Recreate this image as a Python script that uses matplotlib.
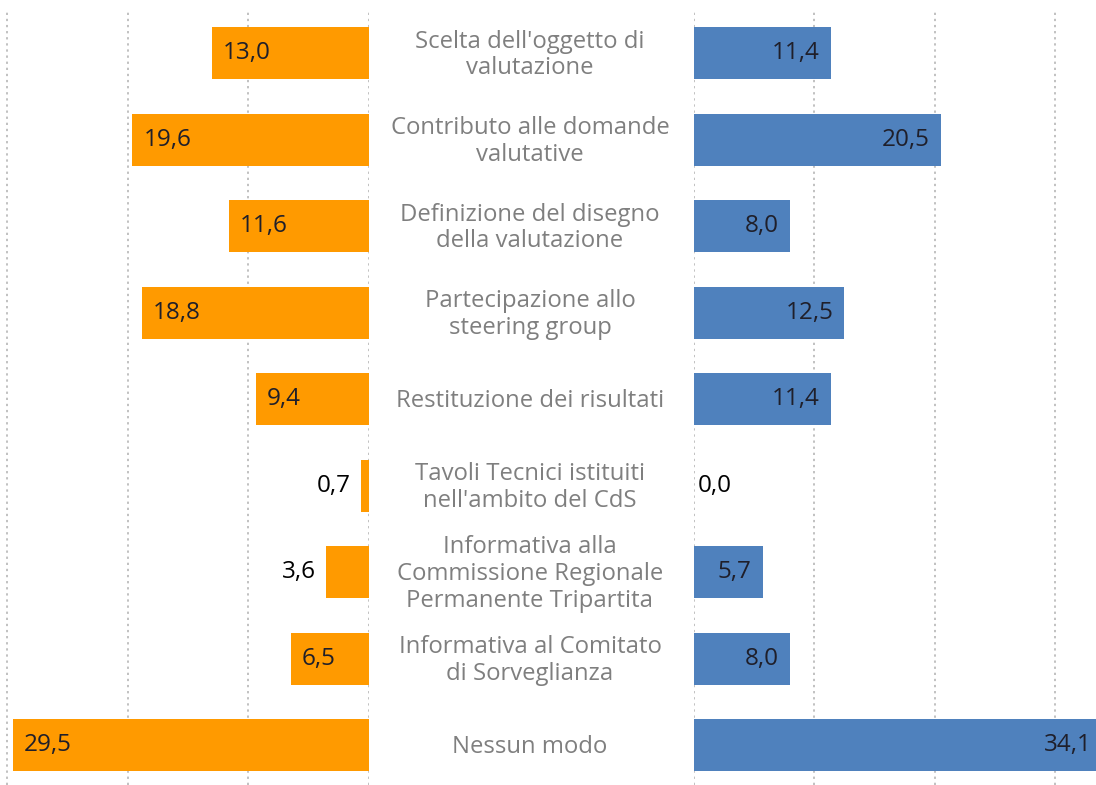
import matplotlib
matplotlib.use("Agg")
import matplotlib.pyplot as plt
import matplotlib.transforms as mtransforms

categories = [
    "Scelta dell'oggetto di\nvalutazione",
    "Contributo alle domande\nvalutative",
    "Definizione del disegno\ndella valutazione",
    "Partecipazione allo\nsteering group",
    "Restituzione dei risultati",
    "Tavoli Tecnici istituiti\nnell'ambito del CdS",
    "Informativa alla\nCommissione Regionale\nPermanente Tripartita",
    "Informativa al Comitato\ndi Sorveglianza",
    "Nessun modo",
]
left_values = [13.0, 19.6, 11.6, 18.8, 9.4, 0.7, 3.6, 6.5, 29.5]
right_values = [11.4, 20.5, 8.0, 12.5, 11.4, 0.0, 5.7, 8.0, 34.1]
grid_ticks = [0, 10, 20, 30]

ORANGE = "#FF9A00"
BLUE = "#4F81BD"
LABEL_GREY = "#7F7F7F"
VAL_COLOR = "#1F1F2A"
FONT = "Open Sans"

W, H = 1096, 785
fig = plt.figure(figsize=(W / 100, H / 100), dpi=100)

top_px = 10
axL = fig.add_axes([0, 0, 369 / W, (H - top_px) / H])
axR = fig.add_axes([694 / W, 0, (W - 694) / W, (H - top_px) / H])

y = list(range(len(categories)))
pxL = (369 - 7) / 30.0
pxR = (1055 - 694) / 30.0
xmaxL = 369 / pxL
xmaxR = (W - 694) / pxR

axL.barh(y, left_values, height=0.6, color=ORANGE, zorder=2)
axR.barh(y, right_values, height=0.6, color=BLUE, zorder=2)

for ax in (axL, axR):
    ax.set_ylim(8.46, -0.5)
    ax.set_xticks(grid_ticks)
    ax.grid(axis="x", color="#B0B0B0", linestyle=(0, (1.5, 2.5)), linewidth=1.1, zorder=0)
    ax.set_yticks([])
    ax.tick_params(axis="x", length=0, labelbottom=False)
    for s in ax.spines.values():
        s.set_visible(False)
    ax.set_facecolor("none")
axL.set_xlim(xmaxL, 0)
axR.set_xlim(0, xmaxR)

fs_val = 17.5
for i, v in enumerate(left_values):
    txt = f"{v:.1f}".replace(".", ",")
    if v >= 4.5:
        axL.annotate(txt, (v, i), xytext=(8, 0), textcoords="offset points",
                     ha="left", va="center", fontsize=fs_val, color=VAL_COLOR, family=FONT)
    else:
        axL.annotate(txt, (v, i), xytext=(-7, 0), textcoords="offset points",
                     ha="right", va="center", fontsize=fs_val, color="black", family=FONT)
for i, v in enumerate(right_values):
    txt = f"{v:.1f}".replace(".", ",")
    end = min(v, xmaxR)
    if v >= 4.5:
        axR.annotate(txt, (end, i), xytext=(-3 if v > xmaxR else -8, 0), textcoords="offset points",
                     ha="right", va="center", fontsize=fs_val, color=VAL_COLOR, family=FONT)
    else:
        axR.annotate(txt, (end, i), xytext=(3, 0), textcoords="offset points",
                     ha="left", va="center", fontsize=fs_val, color="black", family=FONT)

trans = mtransforms.blended_transform_factory(fig.transFigure, axL.transData)
for i, c in enumerate(categories):
    fig.text(530 / W, i + 0.02, c, transform=trans, ha="center", va="center",
             fontsize=17.2, color=LABEL_GREY, family=FONT, linespacing=1.15)

fig.savefig("out.png", dpi=100)
